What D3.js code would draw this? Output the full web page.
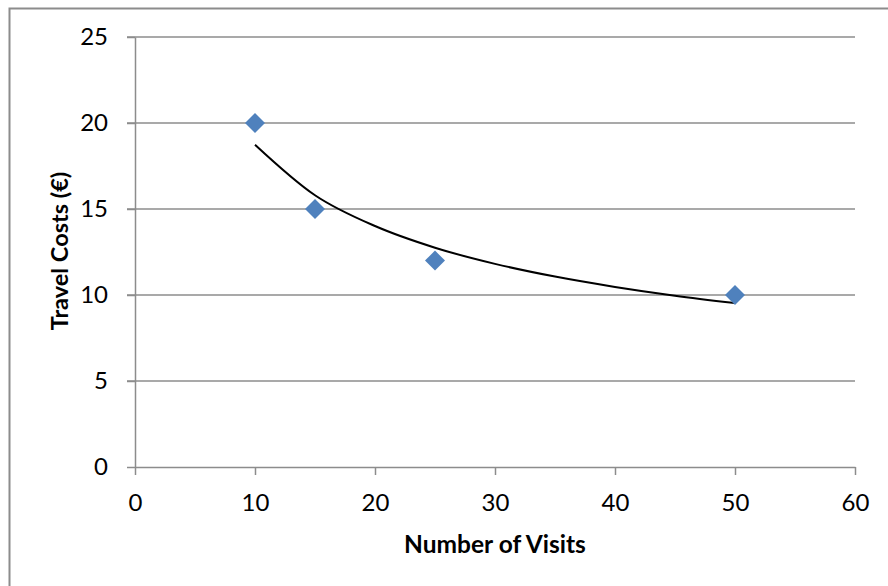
<!DOCTYPE html>
<html><head><meta charset="utf-8">
<script src="https://cdn.jsdelivr.net/npm/d3@7"></script>
<style>body{margin:0;background:#fff}svg{display:block}text{font-family:Lato,"Open Sans",sans-serif}</style>
</head><body>
<svg id="c" width="888" height="586"></svg>
<script>
const visits = [10, 15, 25, 50];
const costs = [20, 15, 12, 10];
// Power trendline
const trendX = [10, 15, 20, 25, 30, 35, 40, 45, 50];
const trendY = [18.74, 15.8, 14.01, 12.75, 11.81, 11.07, 10.47, 9.96, 9.53];
const xTicks = [0, 10, 20, 30, 40, 50, 60];
const yTicks = [0, 5, 10, 15, 20, 25];
const xTitle = "Number of Visits";
const yTitle = "Travel Costs (€)";

const svg = d3.select("#c");
const grey = "#8c8c8c";
const x = d3.scaleLinear().domain([0, 60]).range([135, 855]);
const y = d3.scaleLinear().domain([0, 25]).range([467, 37]);

// outer chart border
svg.append("path").attr("d", "M9.5,600V8.5H900").attr("fill", "none").attr("stroke", grey).attr("stroke-width", 2);

// gridlines
svg.append("g").selectAll("line").data(yTicks.filter(d => d > 0)).join("line")
  .attr("x1", 127).attr("x2", 855).attr("y1", d => y(d)).attr("y2", d => y(d))
  .attr("stroke", grey).attr("stroke-width", 1.5);

// y axis
const ya = svg.append("g").attr("transform", "translate(135,0)")
  .call(d3.axisLeft(y).tickValues(yTicks).tickSize(8).tickPadding(19).tickSizeOuter(0));
// x axis
const xa = svg.append("g").attr("transform", "translate(0,467)")
  .call(d3.axisBottom(x).tickValues(xTicks).tickSize(8).tickPadding(19).tickSizeOuter(0));
[ya, xa].forEach(a => {
  a.select(".domain").attr("stroke", grey).attr("stroke-width", 1.5);
  a.selectAll(".tick line").attr("stroke", grey).attr("stroke-width", 1.5);
  a.selectAll("text").attr("font-family", "Lato, 'Open Sans', sans-serif").attr("font-size", 24).attr("fill", "#000");
});

// trendline
svg.append("path").datum(trendX.map((d, i) => [d, trendY[i]]))
  .attr("d", d3.line().x(d => x(d[0])).y(d => y(d[1])).curve(d3.curveMonotoneX))
  .attr("fill", "none").attr("stroke", "#000").attr("stroke-width", 2);

// markers
svg.append("g").selectAll("path").data(visits.map((d, i) => [d, costs[i]])).join("path")
  .attr("transform", d => `translate(${x(d[0])},${y(d[1])})`)
  .attr("d", "M0,-10L10,0L0,10L-10,0Z").attr("fill", "#4f81bd");

// titles
svg.append("text").attr("x", 495).attr("y", 553).attr("text-anchor", "middle")
  .attr("font-size", 24.5).attr("font-weight", "bold").text(xTitle);
svg.append("text").attr("transform", "translate(68,251) rotate(-90)").attr("text-anchor", "middle")
  .attr("font-size", 23.5).attr("font-weight", "bold").text(yTitle);
</script>
</body></html>
